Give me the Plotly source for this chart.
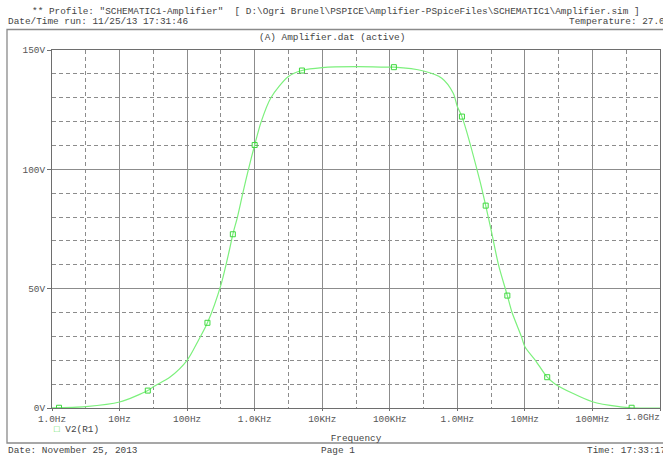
import plotly.graph_objects as go

# ---- data ----
freq_hz = [1, 3.16, 10, 26.2, 31.6, 56, 100, 148, 200, 316, 423, 475, 556, 668,
           809, 1000, 1250, 1740, 3160, 5010, 10000, 31600, 100000, 115000,
           316000, 589000, 870000, 1000000, 1170000, 2140000, 2630000, 3160000,
           4070000, 5500000, 6460000, 8870000, 10000000, 14300000, 21400000,
           28200000, 100000000, 257000000, 380000000, 1000000000]
v2_volts = [0.1, 0.6, 2.5, 7.3, 8.9, 13.0, 20.0, 28.5, 35.7, 51.5, 66.2, 72.8, 80.0, 90.0,
            100.0, 110.2, 120.0, 130.0, 138.9, 141.4, 142.6, 143.0, 142.8, 142.8,
            141.2, 138.2, 131.9, 126.3, 122.1, 95.6, 84.8, 74.6,
            60.0, 47.1, 40.0, 30.0, 25.7, 20.0, 12.9,
            10.0, 2.6, 0.5, 0.1, 0.0]

marker_freq = [1.27, 26.2, 200, 475, 1000, 5010, 115000, 1170000, 2630000, 5500000,
               21400000, 380000000]
marker_volts = [0.1, 7.3, 35.7, 72.8, 110.2, 141.4, 142.8, 122.1, 84.8, 47.1, 12.9, 0.1]

x_tick_vals = [1, 10, 100, 1e3, 1e4, 1e5, 1e6, 1e7, 1e8, 1e9]
x_tick_text = ["1.0Hz", "10Hz", "100Hz", "1.0KHz", "10KHz", "100KHz", "1.0MHz",
               "10MHz", "100MHz", ""]
y_tick_vals = [0, 50, 100, 150]
y_tick_text = ["0V", "50V", "100V", "150V"]

# ---- layout helpers (pixels -> paper) ----
L, R, T, B = 52, 660, 50, 408
def px(p):
    return (p - L) / (R - L)
def py(p):
    return (B - p) / (B - T)

MONO = "Liberation Mono, Courier New, monospace"
FS = 9.4
GREEN = "#7cf07c"

fig = go.Figure()
fig.add_trace(go.Scatter(x=freq_hz, y=v2_volts, mode="lines",
                         line=dict(color=GREEN, width=1.2, shape="spline", smoothing=0.8),
                         showlegend=False, hoverinfo="skip"))
fig.add_trace(go.Scatter(x=marker_freq, y=marker_volts, mode="markers",
                         marker=dict(symbol="square-open", size=5, color="#3fd83f",
                                     line=dict(width=1)),
                         showlegend=False, name="V2(R1)"))

gridc = "#8c8c8c"
fig.update_xaxes(type="log", range=[0, 9], tickmode="array", tickvals=x_tick_vals,
                 ticktext=x_tick_text, showgrid=True, gridcolor=gridc, gridwidth=1,
                 showline=True, linecolor="#6e6e6e", linewidth=1, mirror=True,
                 ticks="outside", ticklen=2, tickcolor="#6e6e6e", automargin=False,
                 tickfont=dict(family=MONO, size=FS, color="#555"),
                 zeroline=False,
                 minor=dict(tickmode="array", tickvals=[10 ** (k + 0.5) for k in range(9)],
                            showgrid=True, gridcolor=gridc, griddash="4px,3px",
                            gridwidth=1, ticks=""),
                 title=dict(text="Frequency", font=dict(family=MONO, size=FS, color="#444"),
                            standoff=10))
fig.update_yaxes(range=[0, 150], tickmode="array", tickvals=y_tick_vals,
                 ticktext=y_tick_text, showgrid=True, gridcolor=gridc, gridwidth=1,
                 showline=True, linecolor="#6e6e6e", linewidth=1, mirror=True,
                 ticks="outside", ticklen=4, tickcolor="#6e6e6e", automargin=False,
                 tickfont=dict(family=MONO, size=FS, color="#555"),
                 zeroline=False,
                 minor=dict(tickmode="linear", tick0=0, dtick=10, showgrid=True,
                            gridcolor=gridc, griddash="4px,3px", gridwidth=1, ticks=""))

annots = [
    dict(text='** Profile: "SCHEMATIC1-Amplifier"  [ D:\\Ogri Brunel\\PSPICE\\Amplifier-PSpiceFiles\\SCHEMATIC1\\Amplifier.sim ]',
         x=px(30), y=py(12), xanchor="left"),
    dict(text="Date/Time run: 11/25/13 17:31:46", x=px(6), y=py(22), xanchor="left"),
    dict(text="Temperature: 27.0", x=px(567), y=py(22), xanchor="left"),
    dict(text="(A) Amplifier.dat (active)", x=px(332), y=py(38), xanchor="center"),
    dict(text='<span style="color:#3fd83f">□</span> V2(R1)', x=px(52), y=py(429), xanchor="left"),
    dict(text="Date: November 25, 2013", x=px(6), y=py(450), xanchor="left"),
    dict(text="Page 1", x=px(319), y=py(450), xanchor="left"),
    dict(text="Time: 17:33:17", x=px(585), y=py(450), xanchor="left"),
]
for a in annots:
    a.update(xref="paper", yref="paper", yanchor="middle", showarrow=False,
             font=dict(family=MONO, size=FS, color="#444"))
fig.add_annotation(text="1.0GHz", x=9, y=0, xref="x", yref="paper", xanchor="right",
                   yanchor="top", yshift=-2, xshift=2, showarrow=False,
                   font=dict(family=MONO, size=FS, color="#555"))
for a in annots:
    fig.add_annotation(**a)

# page frame
fig.add_shape(type="rect", xref="paper", yref="paper", x0=px(7), x1=px(672),
              y0=py(443), y1=py(29.5), line=dict(color="#8a8a8a", width=1.3),
              fillcolor="rgba(0,0,0,0)", layer="below")

fig.update_layout(width=663, height=458, autosize=False,
                  margin=dict(l=L, r=663 - R, t=T, b=458 - B, autoexpand=False),
                  plot_bgcolor="white", paper_bgcolor="white", showlegend=False)

fig.write_html("out.html", config={"displayModeBar": False},
               post_script="document.body.style.margin='0';document.body.style.padding='0';"
                           "document.body.style.overflow='hidden';")
